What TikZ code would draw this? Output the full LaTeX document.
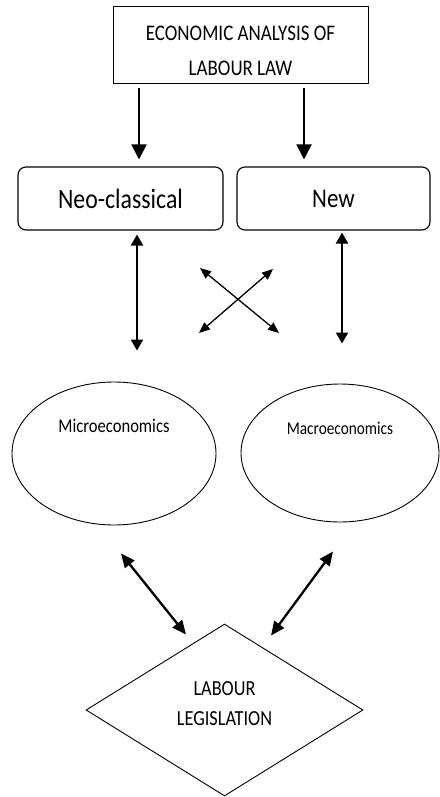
\documentclass[tikz,border=0pt]{standalone}
\usepackage{fontspec}
\setmainfont{Carlito}[FakeStretch=0.85]
\usetikzlibrary{shapes.geometric,arrows.meta}
\begin{document}
\begin{tikzpicture}[x=1pt,y=-1pt,
  sqbox/.style={draw,line width=1pt,inner sep=0pt},
  rbox/.style={draw,line width=1.1pt,rounded corners=8pt,inner sep=0pt,minimum height=63pt},
  ell/.style={draw,ellipse,line width=0.9pt,inner sep=0pt},
  dia/.style={draw,diamond,line width=0.9pt,inner sep=0pt,minimum width=277pt,minimum height=172pt},
  lbl/.style={inner sep=0pt,align=center},
  downarr/.style={line width=2pt,-{Triangle[width=15pt,length=15pt]}},
  dblarr/.style={line width=2pt,{Triangle[width=12pt,length=11pt]}-{Triangle[width=12pt,length=11pt]}},
  crossarr/.style={line width=1.3pt,{Triangle[width=9pt,length=11pt]}-{Triangle[width=9pt,length=11pt]}},
  botarr/.style={line width=2.3pt,{Triangle[width=12pt,length=14pt]}-{Triangle[width=12pt,length=14pt]}}
]
\useasboundingbox (0,0) rectangle (439,797);
% top box
\node[sqbox,minimum width=255pt,minimum height=77pt] (top) at (240.5,45.5) {};
\node[lbl,font=\fontsize{22.3}{35}\selectfont] (toptxt) at (240.5,50.5) {ECONOMIC ANALYSIS OF\\LABOUR LAW};
% rounded boxes
\node[rbox,minimum width=205pt,font=\fontsize{28}{30}\selectfont] (neo) at (120.5,198.5) {Neo-classical};
\node[rbox,minimum width=193pt,font=\fontsize{27}{30}\selectfont] (new) at (333.5,198.5) {New};
% ellipses
\node[ell,minimum width=204pt,minimum height=143pt] (micro) at (114,453.5) {};
\node[lbl,font=\fontsize{19.5}{22}\selectfont] (microtxt) at ([yshift=28pt]micro.center) {Microeconomics};
\node[ell,minimum width=198pt,minimum height=138pt] (macro) at (340,453) {};
\node[lbl,font=\fontsize{18}{22}\selectfont] (macrotxt) at ([yshift=25pt]macro.center) {Macroeconomics};
% diamond
\node[dia] (leg) at (224.5,710) {};
\node[lbl,font=\fontsize{21.5}{30}\selectfont] (legtxt) at ([yshift=6pt]leg.center) {LABOUR\\LEGISLATION};
% top arrows
\draw[downarr] ([xshift=-101.5pt,yshift=-4pt]top.south) -- ([xshift=18.5pt,yshift=7pt]neo.north);
\draw[downarr] ([xshift=63.5pt,yshift=-4pt]top.south) -- ([xshift=-29.5pt,yshift=7pt]new.north);
% vertical double arrows
\draw[dblarr] ([xshift=16.5pt,yshift=-4pt]neo.south) -- ([xshift=23pt,yshift=31pt]micro.north);
\draw[dblarr] ([xshift=8.5pt,yshift=-2pt]new.south) -- ([xshift=2pt,yshift=40pt]macro.north);
% cross arrows
\coordinate (c1) at (200,268);
\coordinate (c2) at (279,333);
\coordinate (c3) at (199,333);
\coordinate (c4) at (273,269);
\draw[crossarr] (c1) -- (c2);
\draw[crossarr] (c3) -- (c4);
% bottom arrows
\draw[botarr] ([xshift=7pt,yshift=-28pt]micro.south) -- ([xshift=-38.5pt,yshift=-11pt]leg.north);
\draw[botarr] ([xshift=-7pt,yshift=-29pt]macro.south) -- ([xshift=46.5pt,yshift=-12pt]leg.north);
\end{tikzpicture}
\end{document}
